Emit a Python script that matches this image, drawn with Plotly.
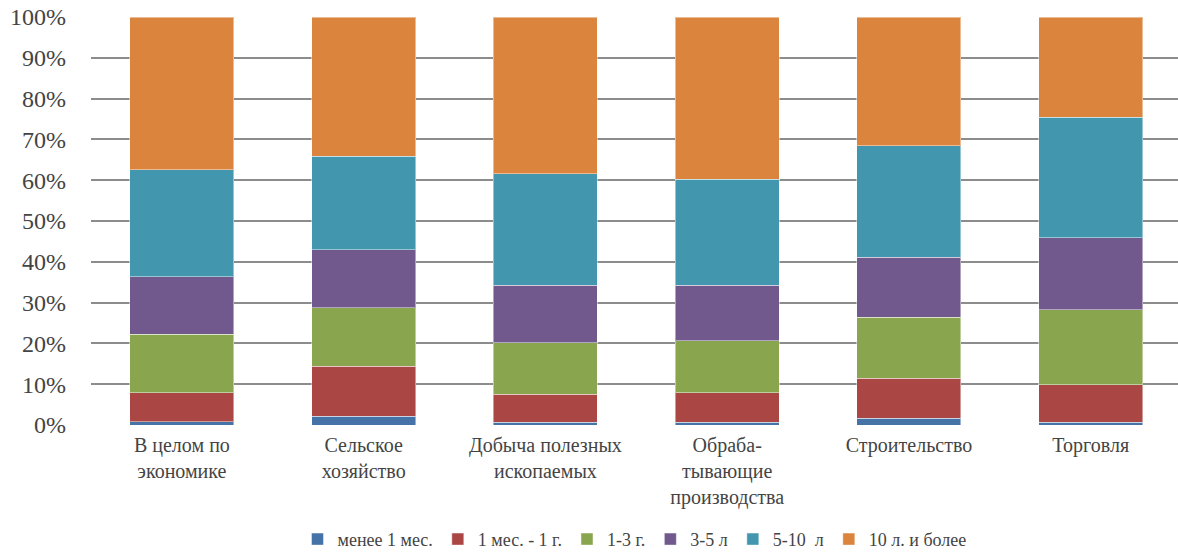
import plotly.graph_objects as go

categories = [
    "В целом по<br>экономике",
    "Сельское<br>хозяйство",
    "Добыча полезных<br>ископаемых",
    "Обраба-<br>тывающие<br>производства",
    "Строительство",
    "Торговля",
]

series_names = ["менее 1 мес.", "1 мес. - 1 г.", "1-3 г.", "3-5 л", "5-10  л", "10 л. и более"]

less_1m = [0.8, 2.2, 0.7, 0.7, 1.6, 0.7]
m1_y1 = [7.1, 12.2, 6.8, 7.2, 9.8, 9.2]
y1_3 = [14.3, 14.4, 12.7, 12.8, 15.0, 18.4]
y3_5 = [14.1, 14.2, 14.0, 13.6, 14.7, 17.6]
y5_10 = [26.3, 22.9, 27.4, 25.9, 27.4, 29.5]
y10_plus = [37.4, 34.1, 38.4, 39.8, 31.5, 24.6]

series_values = [less_1m, m1_y1, y1_3, y3_5, y5_10, y10_plus]
colors = ["#4572A7", "#AA4643", "#89A54E", "#71598E", "#4297AF", "#DB843D"]

ytick_vals = [0, 10, 20, 30, 40, 50, 60, 70, 80, 90, 100]
ytick_text = [f"{v}%" for v in ytick_vals]

fig = go.Figure()
for name, vals, col in zip(series_names, series_values, colors):
    fig.add_trace(go.Bar(
        x=list(range(len(categories))),
        y=vals,
        name=name,
        marker=dict(color=col, line=dict(color="rgba(255,255,255,0.45)", width=1)),
        width=0.572,
    ))

fig.update_layout(
    template="none",
    barmode="stack",
    width=1178,
    height=553,
    margin=dict(l=91, r=0, t=17, b=128, autoexpand=False),
    paper_bgcolor="white",
    plot_bgcolor="white",
    showlegend=True,
    legend=dict(
        orientation="h",
        x=0.5,
        xanchor="center",
        y=-0.235,
        yanchor="top",
        font=dict(family="Liberation Serif", size=18),
        itemwidth=30,
        traceorder="normal",
    ),
)

fig.update_xaxes(
    range=[-0.5, 5.48],
    tickvals=list(range(len(categories))),
    ticktext=categories,
    showgrid=False,
    showline=False,
    zeroline=False,
    ticks="",
    tickfont=dict(family="Liberation Serif", size=20),
    ticklabelstandoff=6,
)

fig.update_yaxes(
    range=[0, 100],
    tickvals=ytick_vals,
    ticktext=ytick_text,
    showgrid=True,
    gridcolor="#8c8c8c",
    gridwidth=2,
    showline=False,
    zeroline=False,
    ticks="",
    tickfont=dict(family="Liberation Serif", size=24),
    ticklabelstandoff=24,
)

fig.write_html("out.html")
